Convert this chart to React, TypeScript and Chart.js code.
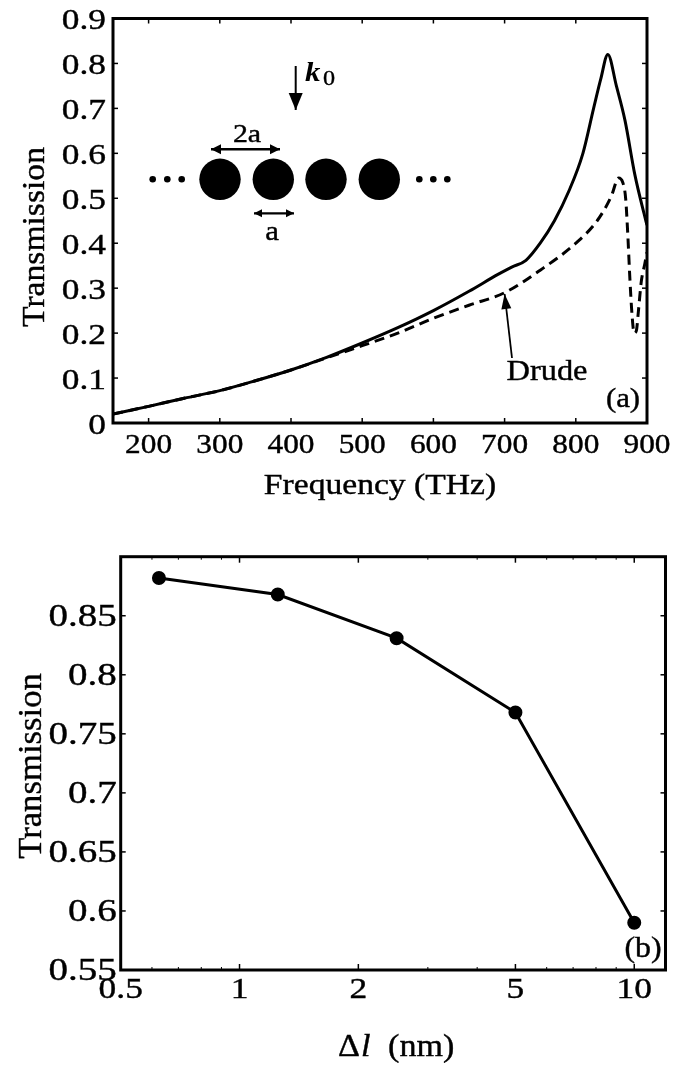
import React, { useEffect, useRef } from "react";
import { Chart, registerables } from "chart.js";

Chart.register(...registerables);

// ---------- data: panel (a) ----------
const freqSolid = [150, 200, 250, 300, 350, 400, 450, 500, 550, 600, 650, 690, 710, 730, 750, 770, 790, 810, 825, 835, 845, 857, 869, 883, 896, 900];
const transSolid = [0.02, 0.037, 0.055, 0.072, 0.094, 0.118, 0.146, 0.178, 0.212, 0.25, 0.293, 0.33, 0.347, 0.362, 0.4, 0.45, 0.515, 0.6, 0.7, 0.765, 0.82, 0.75, 0.674, 0.552, 0.465, 0.44];
const freqDrude = [150, 200, 250, 300, 350, 400, 450, 500, 550, 600, 650, 700, 750, 800, 830, 850, 860, 866, 870, 873, 876, 879, 882, 885, 888, 892, 897, 900];
const transDrude = [0.02, 0.037, 0.055, 0.072, 0.094, 0.118, 0.145, 0.172, 0.2, 0.233, 0.262, 0.29, 0.34, 0.4, 0.45, 0.505, 0.545, 0.535, 0.5, 0.42, 0.32, 0.24, 0.2, 0.205, 0.25, 0.315, 0.355, 0.38];
const freqTicks = [200, 300, 400, 500, 600, 700, 800, 900];
const transTicksA = [0, 0.1, 0.2, 0.3, 0.4, 0.5, 0.6, 0.7, 0.8, 0.9];

// ---------- data: panel (b) ----------
const deltaL = [0.625, 1.25, 2.5, 5, 10];
const transB = [0.882, 0.868, 0.831, 0.768, 0.59];
const deltaTicks = [0.5, 1, 2, 5, 10];
const deltaMinorTicks = [0.6, 0.7, 0.8, 0.9, 3, 4, 6, 7, 8, 9];
const transTicksB = [0.55, 0.6, 0.65, 0.7, 0.75, 0.8, 0.85];

const SERIF = '"Liberation Serif", "Times New Roman", Times, serif';

function txt(ctx: CanvasRenderingContext2D, text: string, x: number, y: number, font: string, o: any = {}) {
  ctx.save();
  ctx.translate(x, y);
  if (o.rot) ctx.rotate(o.rot);
  ctx.scale(o.sx ?? 1.1, 1);
  ctx.font = font;
  ctx.textAlign = o.align ?? "center";
  ctx.textBaseline = o.baseline ?? "middle";
  ctx.fillStyle = "#000";
  ctx.strokeStyle = "#000";
  ctx.lineWidth = o.stroke ?? 0.4;
  ctx.fillText(text, 0, 0);
  ctx.strokeText(text, 0, 0);
  ctx.restore();
}

function arrowHead(ctx: CanvasRenderingContext2D, x1: number, y1: number, x2: number, y2: number, len: number, half: number) {
  const a = Math.atan2(y2 - y1, x2 - x1);
  ctx.beginPath();
  ctx.moveTo(x2, y2);
  ctx.lineTo(x2 - len * Math.cos(a) + half * Math.sin(a), y2 - len * Math.sin(a) - half * Math.cos(a));
  ctx.lineTo(x2 - len * Math.cos(a) - half * Math.sin(a), y2 - len * Math.sin(a) + half * Math.cos(a));
  ctx.closePath();
  ctx.fill();
}

function arrow(ctx: CanvasRenderingContext2D, x1: number, y1: number, x2: number, y2: number, len: number, half: number, lw: number, both = false) {
  ctx.save();
  ctx.strokeStyle = "#000";
  ctx.fillStyle = "#000";
  ctx.lineWidth = lw;
  ctx.beginPath();
  ctx.moveTo(x1, y1);
  ctx.lineTo(x2, y2);
  ctx.stroke();
  arrowHead(ctx, x1, y1, x2, y2, len, half);
  if (both) arrowHead(ctx, x2, y2, x1, y1, len, half);
  ctx.restore();
}

function frame(ctx: CanvasRenderingContext2D, ca: any) {
  ctx.save();
  ctx.strokeStyle = "#000";
  ctx.lineWidth = 3;
  ctx.strokeRect(ca.left, ca.top, ca.right - ca.left, ca.bottom - ca.top);
  ctx.restore();
}

function tickLine(ctx: CanvasRenderingContext2D, x1: number, y1: number, x2: number, y2: number, lw = 1.5) {
  ctx.save();
  ctx.strokeStyle = "#000";
  ctx.lineWidth = lw;
  ctx.beginPath();
  ctx.moveTo(x1, y1);
  ctx.lineTo(x2, y2);
  ctx.stroke();
  ctx.restore();
}

const decorA = {
  id: "decorA",
  afterDraw(chart: any) {
    const ctx: CanvasRenderingContext2D = chart.ctx;
    const ca = chart.chartArea;
    const xs = chart.scales.x;
    const ys = chart.scales.y;
    frame(ctx, ca);
    freqTicks.forEach((v) => {
      if (v >= 900) return;
      const x = xs.getPixelForValue(v);
      tickLine(ctx, x, ca.bottom, x, ca.bottom - 5);
      tickLine(ctx, x, ca.top, x, ca.top + 5);
    });
    transTicksA.forEach((v) => {
      if (v <= 0 || v >= 0.9) return;
      const y = ys.getPixelForValue(v);
      tickLine(ctx, ca.left, y, ca.left + 5, y);
      tickLine(ctx, ca.right, y, ca.right - 5, y);
    });
    freqTicks.forEach((v) => txt(ctx, String(v), xs.getPixelForValue(v), ca.bottom + 23, `27px ${SERIF}`, { sx: 1.16 }));
    transTicksA.forEach((v) => txt(ctx, String(v), ca.left - 7, ys.getPixelForValue(v) + 3, `30px ${SERIF}`, { sx: 1.18, align: "right" }));
    txt(ctx, "Frequency (THz)", (ca.left + ca.right) / 2, ca.bottom + 63, `30px ${SERIF}`, { sx: 1.12 });
    txt(ctx, "Transmission", 36, 237, `32px ${SERIF}`, { sx: 1.05, rot: -Math.PI / 2 });
    txt(ctx, "(a)", 623, 400, `28px ${SERIF}`, { sx: 1.1 });
    // Drude label and arrow
    txt(ctx, "Drude", 547, 372, `30px ${SERIF}`, { sx: 1.08 });
    const tipX = xs.getPixelForValue(700);
    const tipY = ys.getPixelForValue(0.287);
    arrow(ctx, 512, 358, tipX, tipY, 15, 5, 1.8);
    // inset: incident wave vector
    arrow(ctx, 295.7, 66, 295.7, 110, 17, 7, 2);
    ctx.save();
    ctx.fillStyle = "#000";
    ctx.strokeStyle = "#000";
    ctx.lineWidth = 0.4;
    ctx.font = `bold italic 28px ${SERIF}`;
    ctx.textBaseline = "alphabetic";
    ctx.textAlign = "left";
    ctx.save();
    ctx.translate(305, 81);
    ctx.scale(1.1, 1);
    ctx.fillText("k", 0, 0);
    ctx.restore();
    ctx.font = `22px ${SERIF}`;
    ctx.save();
    ctx.translate(323, 85);
    ctx.scale(1.1, 1);
    ctx.fillText("0", 0, 0);
    ctx.strokeText("0", 0, 0);
    ctx.restore();
    ctx.restore();
    // chain of spheres
    ctx.save();
    ctx.fillStyle = "#000";
    [220, 273.3, 326, 379.3].forEach((cx) => {
      ctx.beginPath();
      ctx.arc(cx, 179.3, 20.7, 0, Math.PI * 2);
      ctx.fill();
    });
    [152.7, 167.3, 181.7, 419.3, 433.3, 447.3].forEach((cx) => {
      ctx.beginPath();
      ctx.arc(cx, 179.3, 3.3, 0, Math.PI * 2);
      ctx.fill();
    });
    ctx.restore();
    arrow(ctx, 211, 149.3, 280, 149.3, 10, 5, 2.5, true);
    txt(ctx, "2a", 247, 135, `26px ${SERIF}`, { sx: 1.15 });
    arrow(ctx, 254, 213.3, 294, 213.3, 8, 4, 2.2, true);
    txt(ctx, "a", 272, 233, `28px ${SERIF}`, { sx: 1.1 });
  },
};

const decorB = {
  id: "decorB",
  afterDraw(chart: any) {
    const ctx: CanvasRenderingContext2D = chart.ctx;
    const ca = chart.chartArea;
    const xs = chart.scales.x;
    const ys = chart.scales.y;
    frame(ctx, ca);
    deltaTicks.forEach((v) => {
      if (v <= 0.5) return;
      const x = xs.getPixelForValue(v);
      tickLine(ctx, x, ca.bottom, x, ca.bottom - 6);
      tickLine(ctx, x, ca.top, x, ca.top + 6);
    });
    deltaMinorTicks.forEach((v) => {
      const x = xs.getPixelForValue(v);
      tickLine(ctx, x, ca.bottom, x, ca.bottom - 3, 1);
      tickLine(ctx, x, ca.top, x, ca.top + 3, 1);
    });
    transTicksB.forEach((v) => {
      if (v <= 0.55) return;
      const y = ys.getPixelForValue(v);
      tickLine(ctx, ca.left, y, ca.left + 5, y);
      tickLine(ctx, ca.right, y, ca.right - 5, y);
    });
    deltaTicks.forEach((v) => txt(ctx, String(v), xs.getPixelForValue(v), ca.bottom + 20, `30px ${SERIF}`, { sx: 1.18 }));
    transTicksB.forEach((v) => txt(ctx, String(v), ca.left - 4, ys.getPixelForValue(v) + 2, `32px ${SERIF}`, { sx: 1.22, align: "right" }));
    txt(ctx, "Transmission", 32, 236, `34px ${SERIF}`, { sx: 1.02, rot: -Math.PI / 2 });
    txt(ctx, "(b)", 643, 419, `29px ${SERIF}`, { sx: 1.1 });
    // x title: Δl (nm)
    const cy = 518;
    ctx.save();
    ctx.fillStyle = "#000";
    ctx.strokeStyle = "#000";
    ctx.lineWidth = 0.4;
    ctx.textBaseline = "middle";
    ctx.textAlign = "left";
    ctx.translate(338, cy);
    ctx.scale(1.1, 1);
    ctx.font = `31px ${SERIF}`;
    ctx.fillText("\u0394", 0, 0);
    ctx.strokeText("\u0394", 0, 0);
    let w = ctx.measureText("\u0394").width;
    ctx.font = `italic 31px ${SERIF}`;
    ctx.fillText("l", w + 1, 0);
    ctx.strokeText("l", w + 1, 0);
    w += 1 + ctx.measureText("l").width;
    ctx.font = `31px ${SERIF}`;
    ctx.fillText("(nm)", w + 16, 0);
    ctx.strokeText("(nm)", w + 16, 0);
    ctx.restore();
  },
};

function PanelA() {
  const ref = useRef<HTMLCanvasElement>(null);
  useEffect(() => {
    const chart = new Chart(ref.current!, {
      type: "line",
      data: {
        datasets: [
          {
            data: freqSolid.map((f, i) => ({ x: f, y: transSolid[i] })),
            borderColor: "#000",
            borderWidth: 3,
            pointRadius: 0,
            cubicInterpolationMode: "monotone",
          },
          {
            data: freqDrude.map((f, i) => ({ x: f, y: transDrude[i] })),
            borderColor: "#000",
            borderWidth: 3,
            borderDash: [10, 6],
            pointRadius: 0,
            cubicInterpolationMode: "monotone",
          },
        ],
      },
      options: {
        animation: false,
        responsive: false,
        layout: { padding: { left: 113, right: 27, top: 18.5, bottom: 97 } },
        plugins: { legend: { display: false }, tooltip: { enabled: false } },
        scales: {
          x: { type: "linear", min: 150, max: 900, display: false },
          y: { type: "linear", min: 0, max: 0.9, display: false },
        },
      },
      plugins: [decorA],
    } as any);
    return () => chart.destroy();
  }, []);
  return <canvas ref={ref} width={674} height={520} style={{ position: "absolute", left: 0, top: 0 }} />;
}

function PanelB() {
  const ref = useRef<HTMLCanvasElement>(null);
  useEffect(() => {
    const chart = new Chart(ref.current!, {
      type: "line",
      data: {
        datasets: [
          {
            data: deltaL.map((d, i) => ({ x: d, y: transB[i] })),
            borderColor: "#000",
            backgroundColor: "#000",
            borderWidth: 3,
            pointRadius: 5.5,
            pointBackgroundColor: "#000",
            pointBorderColor: "#000",
            tension: 0,
          },
        ],
      },
      options: {
        animation: false,
        responsive: false,
        layout: { padding: { left: 120.7, right: 5, top: 26.7, bottom: 98 } },
        plugins: { legend: { display: false }, tooltip: { enabled: false } },
        scales: {
          x: { type: "logarithmic", min: 0.5, max: 12, display: false },
          y: { type: "linear", min: 0.55, max: 0.9, display: false },
        },
      },
      plugins: [decorB],
    } as any);
    return () => chart.destroy();
  }, []);
  return <canvas ref={ref} width={674} height={538} style={{ position: "absolute", left: 0, top: 530 }} />;
}

export default function App() {
  return (
    <div style={{ position: "absolute", left: 0, top: 0, width: 674, height: 1068, background: "#fff" }}>
      <PanelA />
      <PanelB />
    </div>
  );
}
